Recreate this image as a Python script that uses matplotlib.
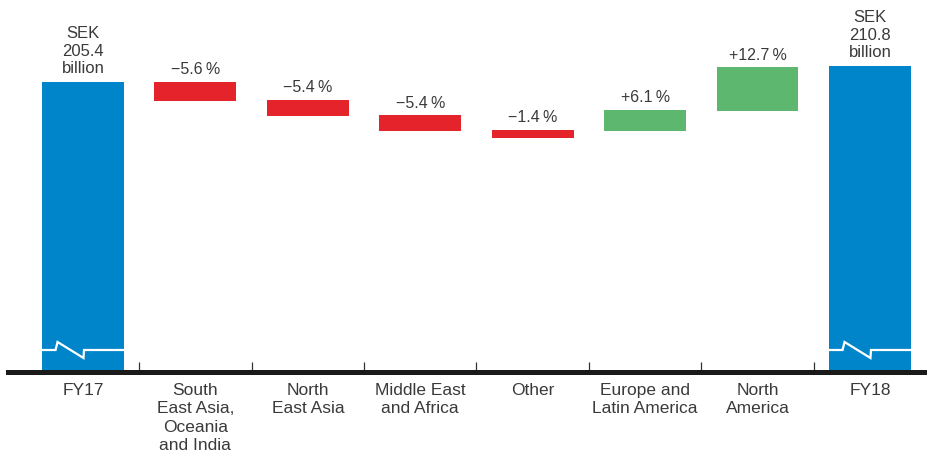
import matplotlib
matplotlib.use("Agg")
import matplotlib.pyplot as plt
from matplotlib import font_manager

# ---- data (chart levels in arbitrary chart units; axis is broken) ----
categories = ["FY17", "South\nEast Asia,\nOceania\nand India", "North\nEast Asia",
              "Middle East\nand Africa", "Other", "Europe and\nLatin America",
              "North\nAmerica", "FY18"]
bar_bottoms = [0, 270.5, 255.5, 240.5, 233.5, 240.5, 260.5, 0]
bar_tops = [289.5, 289.5, 271.5, 256.5, 241.5, 261.5, 304.5, 305.5]
bar_kinds = ["total", "neg", "neg", "neg", "neg", "pos", "pos", "total"]
bar_labels = ["SEK\n205.4\nbillion", "\u22125.6\u2009%", "\u22125.4\u2009%", "\u22125.4\u2009%",
              "\u22121.4\u2009%", "+6.1\u2009%", "+12.7\u2009%", "SEK\n210.8\nbillion"]

colors = {"total": "#0085CA", "neg": "#E4232B", "pos": "#5EB76F"}
text_color = "#3a3a3a"

avail = {f.name for f in font_manager.fontManager.ttflist}
main_font = "Liberation Sans Narrow" if "Liberation Sans Narrow" in avail else "Liberation Sans"
fam = [main_font, "DejaVu Sans"]

fig = plt.figure(figsize=(9.28, 4.54), dpi=100)
ax = fig.add_axes([8 / 928, (454 - 371.5) / 454, 920 / 928, 371.5 / 454])
ax.set_xlim(-0.667, 7.516)
ax.set_ylim(0, 371.5)

w = 0.728
x = list(range(len(categories)))
heights = [t - b for t, b in zip(bar_tops, bar_bottoms)]
ax.bar(x, heights, bottom=bar_bottoms, width=w,
       color=[colors[k] for k in bar_kinds], zorder=2)

# axis-break symbols on the total bars
for i, k in enumerate(bar_kinds):
    if k != "total":
        continue
    left = x[i] - w / 2
    fx = [0, 13.5 / 82, 15.5 / 82, 41.5 / 82, 42 / 82, 1]
    fy = [21.5, 21.5, 29.5, 13.5, 21.5, 21.5]
    ax.plot([left + f * w for f in fx], fy, color="white", lw=1.6,
            solid_joinstyle="miter", zorder=3)

# value labels
for i, lab in enumerate(bar_labels):
    if bar_kinds[i] == "total":
        ax.text(x[i], bar_tops[i] + 9, lab, ha="center", va="baseline",
                fontsize=12, color=text_color, family=fam, linespacing=1.2)
    else:
        ax.text(x[i], bar_tops[i] + 7.5, lab, ha="center", va="baseline",
                fontsize=11.5, color=text_color, family=fam)

# axes styling
for s in ["top", "right", "left"]:
    ax.spines[s].set_visible(False)
ax.spines["bottom"].set_linewidth(3.6)
ax.spines["bottom"].set_color("#1a1a1a")
ax.spines["bottom"].set_zorder(4)
ax.set_yticks([])
ax.set_xticks(x)
ax.set_xticklabels(categories, fontsize=12.5, color=text_color, family=fam, linespacing=1.3,
                   va="top")
ax.tick_params(axis="x", which="major", length=0, pad=8)
ax.set_xticks([i + 0.5 for i in range(len(categories) - 1)], minor=True)
ax.tick_params(axis="x", which="minor", direction="in", length=7, width=0.9, color="#333333")

fig.savefig("out.png", dpi=100)
